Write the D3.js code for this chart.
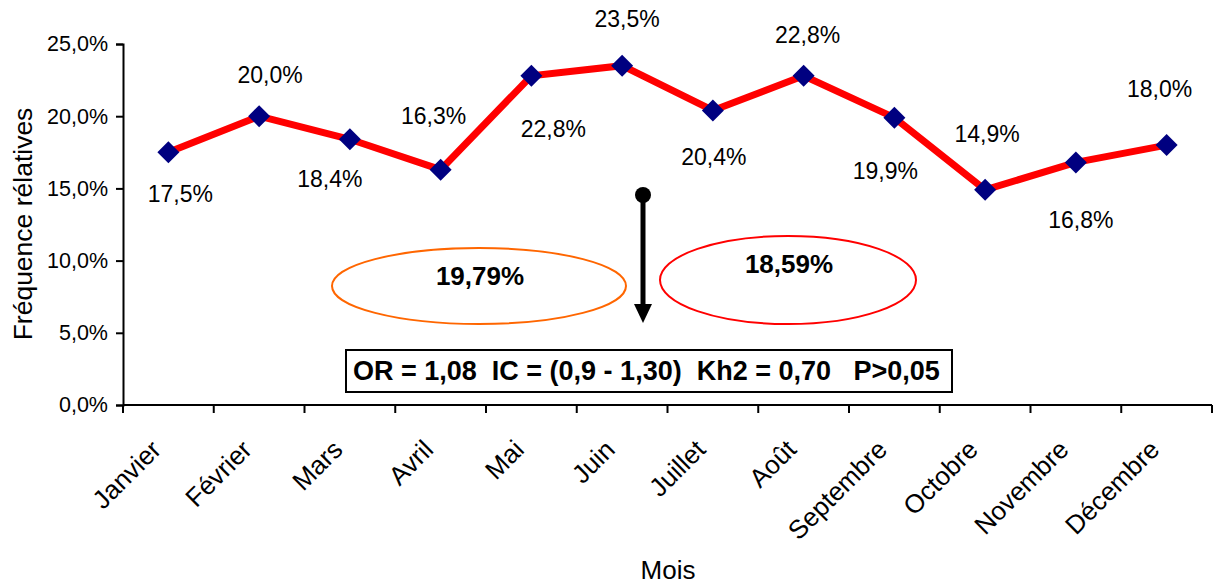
<!DOCTYPE html>
<html><head><meta charset="utf-8">
<script src="https://cdnjs.cloudflare.com/ajax/libs/d3/7.8.5/d3.min.js"></script>
<style>
html,body{margin:0;padding:0;background:#fff;}
svg{display:block;font-family:"Liberation Sans",Arial,sans-serif;}
</style></head>
<body><svg id="chart" width="1216" height="586"></svg>
<script>
const categories = ["Janvier","Février","Mars","Avril","Mai","Juin","Juillet","Août","Septembre","Octobre","Novembre","Décembre"];
const values = [17.5, 20.0, 18.4, 16.3, 22.8, 23.5, 20.4, 22.8, 19.9, 14.9, 16.8, 18.0];
const yTicks = [0, 5, 10, 15, 20, 25];
// label placement relative to each point [dx, dy]
const labelOffsets = [[12,50],[11,-33],[-20,48],[-7,-46],[22,61],[5,-39],[1,55],[4,-33],[-9,61],[2,-48],[5,66],[-7,-48]];
const groupA = "19,79%";
const groupB = "18,59%";
const statsText = "OR = 1,08  IC = (0,9 - 1,30)  Kh2 = 0,70   P>0,05";

(function(){
const svg = d3.select("#chart");
const mLeft = 123, mRight = 1212, mTop = 44, mBottom = 405;
const x = d3.scaleBand().domain(categories).range([mLeft, mRight]).padding(0);
const y = d3.scaleLinear().domain([0, 25]).range([mBottom, mTop]);
const fmt = v => v.toFixed(1).replace(".", ",") + "%";

// Y axis
const yAxis = svg.append("g").attr("transform", `translate(${mLeft},0)`)
  .call(d3.axisLeft(y).tickValues(yTicks).tickSize(7).tickPadding(8).tickFormat(fmt));
yAxis.select(".domain").attr("stroke","#000").attr("stroke-width",2);
yAxis.selectAll(".tick line").attr("stroke","#000").attr("stroke-width",2);
yAxis.selectAll(".tick text").attr("font-size",21.5).attr("font-family","Liberation Sans, Arial").attr("fill","#000");

// X axis with ticks at boundaries
const xAxis = svg.append("g").attr("transform", `translate(0,${mBottom})`);
xAxis.append("line").attr("x1", mLeft).attr("x2", mRight).attr("y1",0).attr("y2",0).attr("stroke","#000").attr("stroke-width",2);
const bounds = d3.range(categories.length + 1).map(i => mLeft + i * x.bandwidth());
xAxis.selectAll("line.tk").data(bounds).join("line").attr("class","tk")
  .attr("x1", d => d).attr("x2", d => d).attr("y1", 0).attr("y2", 8)
  .attr("stroke","#000").attr("stroke-width",2);
xAxis.selectAll("text.cat").data(categories).join("text").attr("class","cat")
  .attr("transform", d => `translate(${x(d) + x.bandwidth()/2 - 19},${33}) rotate(-45)`)
  .attr("text-anchor","end").attr("dy","0.72em")
  .attr("font-size",26).attr("fill","#000").text(d => d);

// Axis titles
svg.append("text").attr("transform", `translate(32,224) rotate(-90)`).attr("text-anchor","middle")
  .attr("font-size",26.5).attr("fill","#000").text("Fréquence rélatives");
svg.append("text").attr("x", 668).attr("y", 579).attr("text-anchor","middle")
  .attr("font-size",26).attr("fill","#000").text("Mois");

// Line
const cx = d => x(d) + x.bandwidth()/2;
const line = d3.line().x((d,i) => cx(categories[i])).y(d => y(d));
svg.append("path").datum(values).attr("d", line).attr("fill","none")
  .attr("stroke","#FF0000").attr("stroke-width",7).attr("stroke-linejoin","miter");

// Markers (diamonds)
svg.selectAll("path.mk").data(values).join("path").attr("class","mk")
  .attr("d", d3.symbol().type(d3.symbolSquare).size(242))
  .attr("transform", (d,i) => `translate(${cx(categories[i])},${y(d)}) rotate(45)`)
  .attr("fill","#000080");

// Data labels
svg.selectAll("text.lbl").data(values).join("text").attr("class","lbl")
  .attr("x", (d,i) => cx(categories[i]) + labelOffsets[i][0])
  .attr("y", (d,i) => y(d) + labelOffsets[i][1])
  .attr("text-anchor","middle").attr("font-size",23).attr("fill","#000").text(fmt);

// Ellipses
svg.append("ellipse").attr("cx",479).attr("cy",286).attr("rx",147).attr("ry",38)
  .attr("fill","none").attr("stroke","#FF6600").attr("stroke-width",2);
svg.append("text").attr("x",480).attr("y",285).attr("text-anchor","middle")
  .attr("font-size",26).attr("font-weight","bold").attr("fill","#000").text(groupA);
svg.append("ellipse").attr("cx",788).attr("cy",280).attr("rx",128).attr("ry",44)
  .attr("fill","none").attr("stroke","#FF0000").attr("stroke-width",2);
svg.append("text").attr("x",789).attr("y",273).attr("text-anchor","middle")
  .attr("font-size",26).attr("font-weight","bold").attr("fill","#000").text(groupB);

// Arrow
svg.append("circle").attr("cx",643).attr("cy",195).attr("r",8).attr("fill","#000");
svg.append("line").attr("x1",643).attr("x2",643).attr("y1",195).attr("y2",306)
  .attr("stroke","#000").attr("stroke-width",5);
svg.append("path").attr("d","M634,304 L652,304 L643,323 Z").attr("fill","#000");

// Stats box
svg.append("rect").attr("x",346).attr("y",350).attr("width",606).attr("height",42)
  .attr("fill","#fff").attr("stroke","#000").attr("stroke-width",2);
svg.append("text").attr("x",353).attr("y",380).attr("font-size",27).attr("font-weight","bold")
  .attr("fill","#000").style("white-space","pre").text(statsText);
})();
</script></body></html>
